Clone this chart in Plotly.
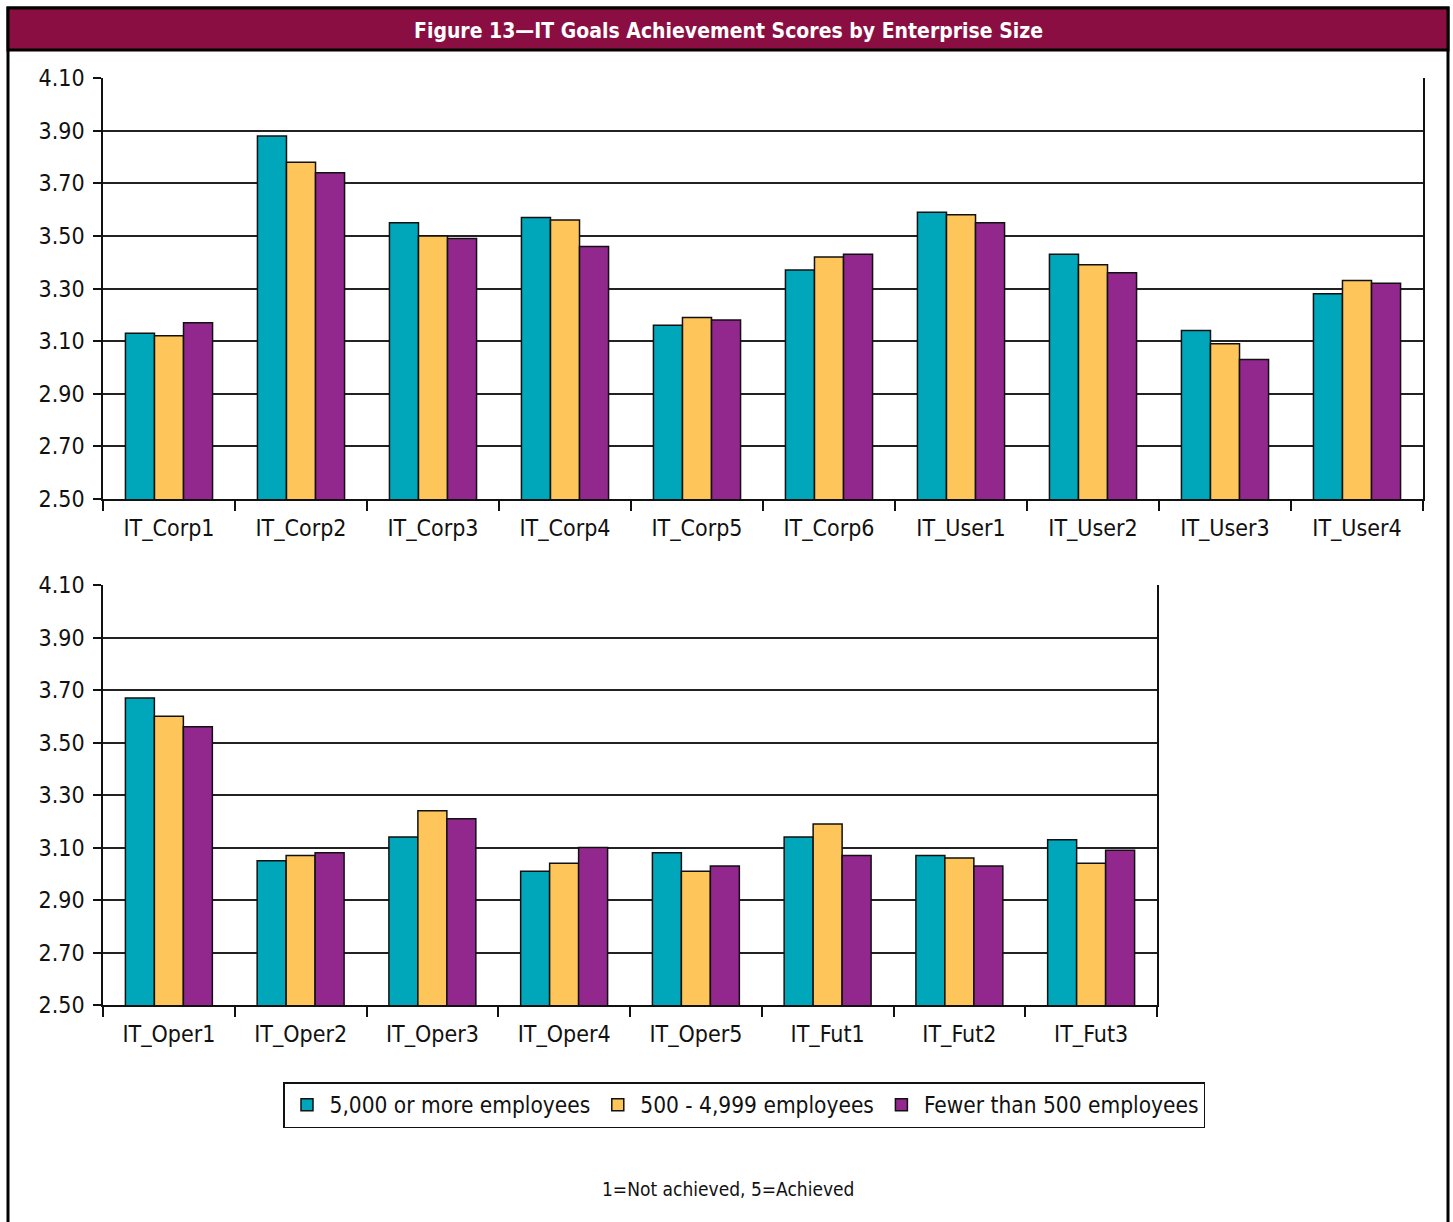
import plotly.graph_objects as go

# ---- data ----
top_categories = ["IT_Corp1", "IT_Corp2", "IT_Corp3", "IT_Corp4", "IT_Corp5",
                  "IT_Corp6", "IT_User1", "IT_User2", "IT_User3", "IT_User4"]
bottom_categories = ["IT_Oper1", "IT_Oper2", "IT_Oper3", "IT_Oper4",
                     "IT_Oper5", "IT_Fut1", "IT_Fut2", "IT_Fut3"]

series_names = ["5,000 or more employees", "500 - 4,999 employees", "Fewer than 500 employees"]

large_top = [3.13, 3.88, 3.55, 3.57, 3.16, 3.37, 3.59, 3.43, 3.14, 3.28]
medium_top = [3.12, 3.78, 3.50, 3.56, 3.19, 3.42, 3.58, 3.39, 3.09, 3.33]
small_top = [3.17, 3.74, 3.49, 3.46, 3.18, 3.43, 3.55, 3.36, 3.03, 3.32]

large_bottom = [3.67, 3.05, 3.14, 3.01, 3.08, 3.14, 3.07, 3.13]
medium_bottom = [3.60, 3.07, 3.24, 3.04, 3.01, 3.19, 3.06, 3.04]
small_bottom = [3.56, 3.08, 3.21, 3.10, 3.03, 3.07, 3.03, 3.09]

y_ticks = [2.50, 2.70, 2.90, 3.10, 3.30, 3.50, 3.70, 3.90, 4.10]

title_text = "Figure 13\u2014IT Goals Achievement Scores by Enterprise Size"
note_text = "1=Not achieved, 5=Achieved"

# ---- style ----
colors = ["#00A6B9", "#FEC55B", "#92278E"]
FONT = "Liberation Sans Narrow, Arial Narrow, DejaVu Sans Condensed, sans-serif"
W, H = 1453, 1222


def px_x(x):
    return x / W


def px_y(y):
    return 1 - y / H


fig = go.Figure()

top_vals = [large_top, medium_top, small_top]
bot_vals = [large_bottom, medium_bottom, small_bottom]

for i, name in enumerate(series_names):
    fig.add_trace(go.Bar(
        x=top_categories, y=top_vals[i], name=name,
        marker=dict(color=colors[i], line=dict(color="#111111", width=1.5)),
        xaxis="x", yaxis="y", legendgroup=name, showlegend=True,
    ))
for i, name in enumerate(series_names):
    fig.add_trace(go.Bar(
        x=bottom_categories, y=bot_vals[i], name=name,
        marker=dict(color=colors[i], line=dict(color="#111111", width=1.5)),
        xaxis="x2", yaxis="y2", legendgroup=name, showlegend=False,
    ))

yaxis_common = dict(
    range=[2.5, 4.1], tickvals=y_ticks, tickformat=".2f",
    showgrid=True, gridcolor="#222222", gridwidth=1.5,
    showline=True, linecolor="#111111", linewidth=1.5, mirror=True,
    ticks="outside", ticklen=8, tickcolor="#111111", tickwidth=1.5,
    ticklabelstandoff=4,
    tickfont=dict(family=FONT, size=23, color="#111111"),
    zeroline=False, fixedrange=True, automargin=False,
)
xaxis_common = dict(
    type="category", showgrid=False,
    showline=True, linecolor="#111111", linewidth=1.5,
    ticks="outside", tickson="boundaries", ticklen=10, tickcolor="#111111", tickwidth=1.5,
    ticklabelstandoff=8,
    tickfont=dict(family=FONT, size=23, color="#111111"),
    fixedrange=True, automargin=False,
)

fig.update_layout(
    width=W, height=H,
    margin=dict(l=0, r=0, t=0, b=0, pad=0, autoexpand=False),
    paper_bgcolor="white", plot_bgcolor="white",
    barmode="group", bargap=0.34, bargroupgap=0.0,
    xaxis=dict(domain=[px_x(103), px_x(1423)], anchor="y", **xaxis_common),
    yaxis=dict(domain=[px_y(499), px_y(78)], anchor="x", **yaxis_common),
    xaxis2=dict(domain=[px_x(103), px_x(1157)], anchor="y2", **xaxis_common),
    yaxis2=dict(domain=[px_y(1005), px_y(585)], anchor="x2", **yaxis_common),
    legend=dict(
        orientation="h", x=px_x(744), xanchor="center", y=px_y(1082), yanchor="top",
        bordercolor="#111111", borderwidth=1.5, bgcolor="white",
        font=dict(family=FONT, size=22.5, color="#111111"),
        itemwidth=35, traceorder="normal",
    ),
    showlegend=True,
)

# frame and title bar
fig.add_shape(type="rect", xref="paper", yref="paper",
              x0=px_x(8), x1=px_x(1448), y0=px_y(1240), y1=px_y(8),
              line=dict(color="#000000", width=3), fillcolor="rgba(0,0,0,0)", layer="above")
fig.add_shape(type="rect", xref="paper", yref="paper",
              x0=px_x(8), x1=px_x(1448), y0=px_y(50), y1=px_y(8),
              line=dict(color="#000000", width=3), fillcolor="#8B0E42", layer="above")

fig.add_annotation(text="<b>" + title_text + "</b>", xref="paper", yref="paper",
                   x=px_x(728), y=px_y(31), xanchor="center", yanchor="middle",
                   showarrow=False, font=dict(family=FONT, size=21, color="white"))
fig.add_annotation(text=note_text, xref="paper", yref="paper",
                   x=px_x(728), y=px_y(1189), xanchor="center", yanchor="middle",
                   showarrow=False, font=dict(family=FONT, size=19, color="#111111"))

fig.write_html("out.html")
